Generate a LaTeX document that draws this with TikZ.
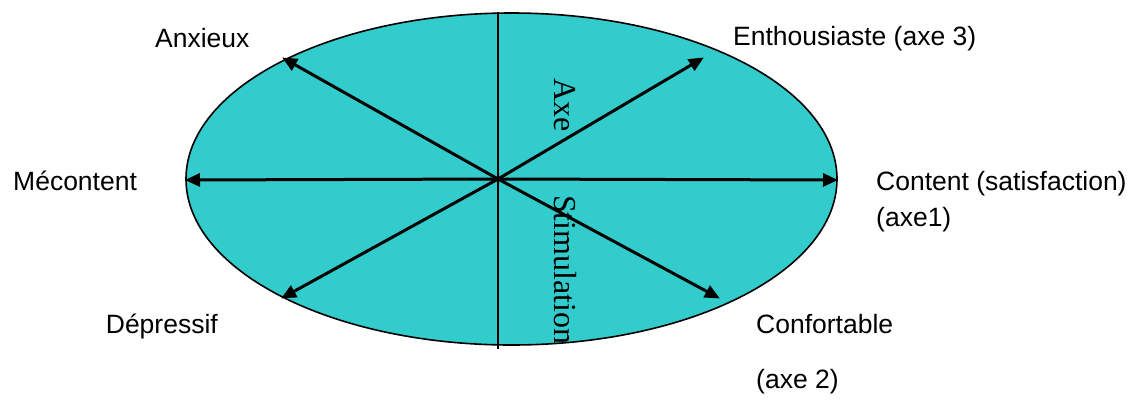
\documentclass[tikz,border=0pt]{standalone}
\usepackage{fontspec}
\setmainfont{Liberation Sans}
\newfontfamily\serifface{Liberation Serif}
\usetikzlibrary{arrows.meta}
\definecolor{teal33}{HTML}{33CCCC}
\begin{document}
\begin{tikzpicture}[x=1pt,y=-1pt,
  lbl/.style={inner sep=0pt,font=\fontsize{26.5}{30}\selectfont},
  axelbl/.style={inner sep=0pt,rotate=-90,anchor=base west,font=\serifface\fontsize{32}{36}\selectfont},
  arr/.style={line width=3pt,-{Triangle[length=15pt,width=13pt]},shorten >=-1pt}]
\useasboundingbox (0,0) rectangle (1129,400);
\path[fill=teal33,draw=black,line width=1.6pt] (511.5,179) ellipse [x radius=325.5,y radius=166];
\coordinate (c) at (498,179);
\coordinate (vt) at (498,12);
\coordinate (vb) at (498,349);
\coordinate (tA) at (283,58);
\coordinate (tE) at (703,58);
\coordinate (tM) at (186,180);
\coordinate (tC) at (837,180);
\coordinate (tD) at (282,298);
\coordinate (tF) at (719,298);
\draw[line width=1.3pt] (vt) -- (vb);
\draw[arr] (c) -- (tA);
\draw[arr] (c) -- (tE);
\draw[arr] (c) -- (tM);
\draw[arr] (c) -- (tC);
\draw[arr] (c) -- (tD);
\draw[arr] (c) -- (tF);
\node[axelbl] (axe) at (554,78) {Axe};
\node[axelbl] (stim) at (554,195) {Stimulation};
\node[lbl,anchor=base west] (anx) at (155,47) {Anxieux};
\node[lbl,anchor=base west] (ent) at (733,45) {Enthousiaste (axe 3)};
\node[lbl,anchor=base west] (mec) at (13,190) {Mécontent};
\node[lbl,anchor=base west] (con) at (876,190) {Content (satisfaction)};
\node[lbl,anchor=base west] (ax1) at (876,226) {(axe1)};
\node[lbl,anchor=base east] (dep) at (218,333) {Dépressif};
\node[lbl,anchor=base west] (cnf) at (756,333) {Confortable};
\node[lbl,anchor=base west] (ax2) at (756,388) {(axe 2)};
\end{tikzpicture}
\end{document}
